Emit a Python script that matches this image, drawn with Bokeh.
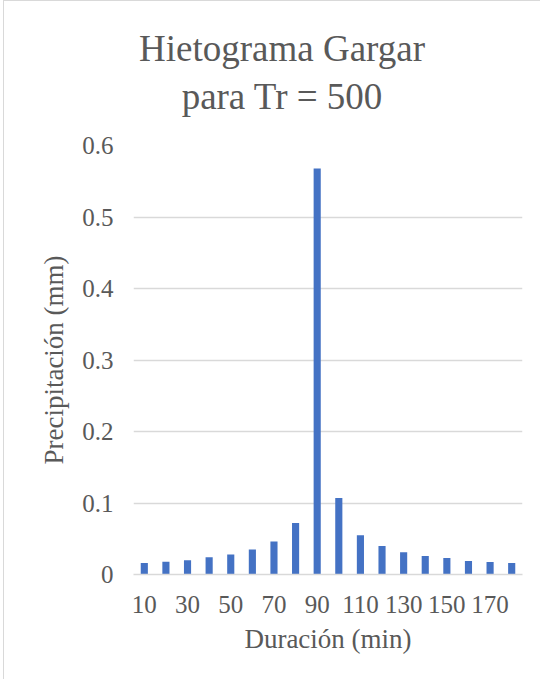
from bokeh.plotting import figure
from bokeh.models import Range1d, FixedTicker, ColumnDataSource, Div
from bokeh.layouts import column
from bokeh.embed import file_html
from bokeh.resources import INLINE

# Data
durations = [10, 20, 30, 40, 50, 60, 70, 80, 90, 100, 110, 120, 130, 140, 150, 160, 170, 180]
precip = [0.016, 0.018, 0.020, 0.024, 0.028, 0.035, 0.046, 0.072, 0.568, 0.107,
          0.055, 0.040, 0.031, 0.026, 0.023, 0.019, 0.0175, 0.016]
x_tick_values = [10, 30, 50, 70, 90, 110, 130, 150, 170]
y_tick_values = [0, 0.1, 0.2, 0.3, 0.4, 0.5, 0.6]
y_tick_labels = ["0", "0.1", "0.2", "0.3", "0.4", "0.5", "0.6"]
title_line1 = "Hietograma Gargar"
title_line2 = "para Tr = 500"
x_title = "Duración (min)"
y_title = "Precipitación (mm)"

FONT = "'Liberation Serif', 'Times New Roman', serif"
GREY = "#595959"

title_div = Div(
    text=(f"<div style=\"font-family: {FONT}; font-size: 37px; line-height: 48px; color: {GREY}; "
          f"text-align: center; padding-top: 24px; padding-left: 20px; width: 536px; "
          f"box-sizing: border-box;\">"
          f"{title_line1}<br>{title_line2}</div>"),
    width=536, height=124, margin=0)

p = figure(width=536, height=554, output_backend="svg", toolbar_location=None,
           x_range=Range1d(5, 185), y_range=Range1d(0, 0.6),
           min_border_left=129, min_border_right=18, min_border_top=20, min_border_bottom=105,
           outline_line_color=None, background_fill_color="white", border_fill_color="white",
           margin=0)

src = ColumnDataSource(dict(x=durations, y=precip))
p.vbar(x="x", top="y", width=3.3, bottom=0, source=src, fill_color="#4472C4", line_color=None)

# grids
p.xgrid.grid_line_color = None
p.ygrid.grid_line_color = "#d9d9d9"
p.ygrid.grid_line_width = 1.3
p.ygrid.ticker = FixedTicker(ticks=y_tick_values)

# x axis
p.xaxis.ticker = FixedTicker(ticks=x_tick_values)
p.xaxis.axis_line_color = "#d9d9d9"
p.xaxis.axis_line_width = 1.3
p.xaxis.major_tick_line_color = None
p.xaxis.minor_tick_line_color = None
p.xaxis.major_label_text_font = FONT
p.xaxis.major_label_text_font_size = "25px"
p.xaxis.major_label_text_color = GREY
p.xaxis.major_label_standoff = 15
p.xaxis.axis_label = x_title
p.xaxis.axis_label_text_font = FONT
p.xaxis.axis_label_text_font_size = "27px"
p.xaxis.axis_label_text_font_style = "normal"
p.xaxis.axis_label_text_color = GREY
p.xaxis.axis_label_standoff = 8

# y axis
p.yaxis.ticker = FixedTicker(ticks=y_tick_values)
p.yaxis.major_label_overrides = {v: l for v, l in zip(y_tick_values, y_tick_labels)}
p.yaxis.axis_line_color = None
p.yaxis.major_tick_line_color = None
p.yaxis.minor_tick_line_color = None
p.yaxis.major_label_text_font = FONT
p.yaxis.major_label_text_font_size = "25px"
p.yaxis.major_label_text_color = GREY
p.yaxis.major_label_standoff = 14
p.yaxis.axis_label = y_title
p.yaxis.axis_label_text_font = FONT
p.yaxis.axis_label_text_font_size = "27px"
p.yaxis.axis_label_text_font_style = "normal"
p.yaxis.axis_label_text_color = GREY
p.yaxis.axis_label_standoff = 10

layout = column(title_div, p, spacing=0,
                styles={"border-top": "1px solid #d9d9d9", "border-left": "1px solid #d9d9d9",
                        "margin-left": "3px", "background-color": "white"})

open("out.html", "w").write(file_html(layout, INLINE))
